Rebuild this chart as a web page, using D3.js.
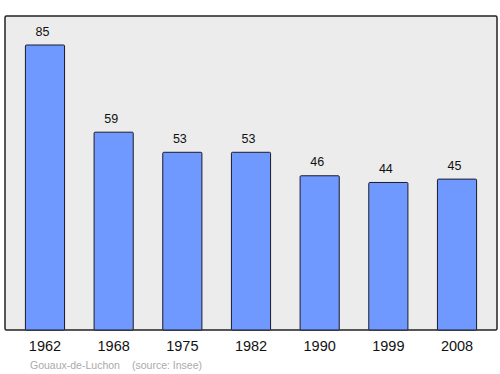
<!DOCTYPE html>
<html>
<head>
<meta charset="utf-8">
<script src="https://cdn.jsdelivr.net/npm/d3@7"></script>
<style>
  body { margin: 0; background: #fff; }
  text { font-family: "Liberation Sans", Arial, sans-serif; }
</style>
</head>
<body>
<div id="chart"></div>
<script>
// data
var years = ['1962', '1968', '1975', '1982', '1990', '1999', '2008'];
var population = [85, 59, 53, 53, 46, 44, 45];
var place = 'Gouaux-de-Luchon';
var source = '(source: Insee)';

var width = 500,
    height = 374,
    frame = { left: 5, right: 497, top: 16, bottom: 330 };

var svg = d3.select('#chart').append('svg')
    .attr('width', width)
    .attr('height', height);

// background frame
svg.append('rect')
    .attr('x', frame.left)
    .attr('y', frame.top)
    .attr('width', frame.right - frame.left)
    .attr('height', frame.bottom - frame.top)
    .attr('rx', 1.5)
    .attr('fill', '#ececec')
    .attr('stroke', '#222')
    .attr('stroke-width', 1.5);

var xScale = d3.scaleBand()
    .domain(years)
    .range([11, 491])
    .paddingInner(0.43)
    .paddingOuter(0.21);

var yScale = d3.scaleLinear()
    .domain([0, 93.65])
    .range([frame.bottom, frame.top]);

var data = years.map(function(y, i) { return { year: y, value: population[i] }; });

// bars
svg.append('g').selectAll('rect')
    .data(data)
    .enter().append('rect')
    .attr('x', function(d) { return xScale(d.year); })
    .attr('y', function(d) { return yScale(d.value); })
    .attr('width', xScale.bandwidth())
    .attr('height', function(d) { return frame.bottom - yScale(d.value); })
    .attr('rx', 1)
    .attr('fill', '#7099ff')
    .attr('stroke', '#1a1a2a')
    .attr('stroke-width', 1);

// value labels (sit slightly left of bar centre, as in the original)
svg.append('g').selectAll('text')
    .data(data)
    .enter().append('text')
    .attr('x', function(d) { return xScale(d.year) + xScale.bandwidth() / 2 - 2.5; })
    .attr('y', function(d) { return yScale(d.value) - 9.5; })
    .attr('text-anchor', 'middle')
    .attr('font-size', 12.5)
    .attr('fill', '#111')
    .text(function(d) { return d.value; });

// x axis labels
var xAxis = d3.axisBottom(xScale).tickSize(0).tickPadding(11);
var axisG = svg.append('g')
    .attr('transform', 'translate(0,' + frame.bottom + ')')
    .call(xAxis);
axisG.select('.domain').remove();
axisG.selectAll('text')
    .attr('font-size', 14.5)
    .attr('font-family', '"Liberation Sans", Arial, sans-serif')
    .attr('fill', '#111');

// footer
var footer = svg.append('g').attr('font-size', 10.5).attr('fill', '#aaa');
footer.append('text').attr('x', 30).attr('y', 368.5).text(place);
footer.append('text').attr('x', 132).attr('y', 368.5).text(source);
</script>
</body>
</html>
